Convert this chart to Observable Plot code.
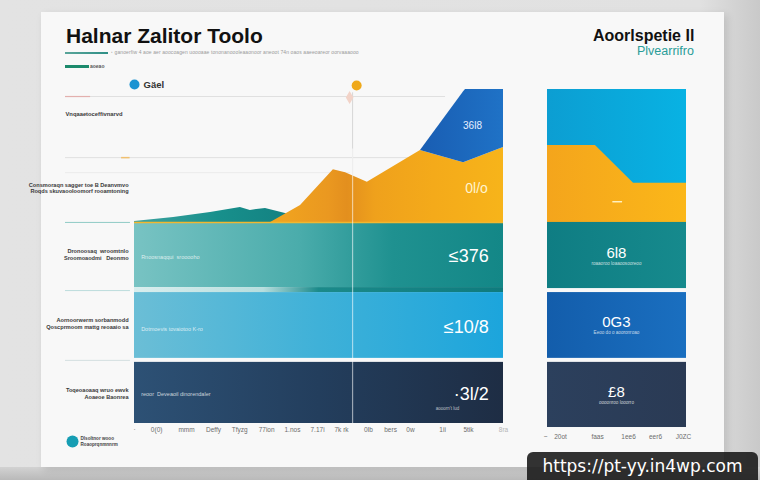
<!DOCTYPE html>
<html>
<head>
<meta charset="utf-8">
<script src="https://cdn.jsdelivr.net/npm/d3@7"></script>
<script src="https://cdn.jsdelivr.net/npm/@observablehq/plot@0.6"></script>
<style>
  html, body { margin: 0; padding: 0; }
  body { width: 760px; height: 480px; overflow: hidden; position: relative;
         background: linear-gradient(90deg, #e3e3e3 0%, #e1e1e1 92%, #c9c9c9 100%);
         font-family: "Liberation Sans", Arial, sans-serif; }
  #floor { position: absolute; left: 0; top: 467px; width: 760px; height: 13px;
           background: linear-gradient(180deg, #d2d2d2, #b9b9b9); }
  #card { position: absolute; left: 41px; top: 12px; width: 683px; height: 455px;
          background: #f8f8f8; box-shadow: 3px 3px 8px rgba(0,0,0,0.12); }
  .abs { position: absolute; white-space: nowrap; line-height: 1; }
  #title { left: 66px; top: 25px; font-size: 21px; font-weight: bold; color: #111; letter-spacing: 0px; }
  #tbar { left: 65px; top: 52px; width: 43px; height: 2px; background: linear-gradient(90deg,#5aa59a,#2f8f86); }
  #tsub { left: 111px; top: 50px; font-size: 5px; color: #9a9a9a; letter-spacing: 0.1px; }
  #gbar { left: 65px; top: 65px; width: 24px; height: 3px; background: #1c8a6c; }
  #gsub { left: 90px; top: 64px; font-size: 5px; color: #555; font-weight: bold; }
  #rhead { left: 593px; top: 28px; font-size: 16px; font-weight: bold; color: #111; letter-spacing: 0px; }
  #rsub { left: 637px; top: 45px; font-size: 12.5px; color: #2a9d98; letter-spacing: 0px; }
  #wm { left: 527px; top: 452px; width: 231px; height: 34px; background: rgba(28,28,28,0.9);
        border-radius: 6px; color: #fff; font-family: "DejaVu Sans", sans-serif; font-size: 17px;
        line-height: 28px; text-align: center; }
  #left { position: absolute; left: 40px; top: 75px; }
  #right { position: absolute; left: 540px; top: 75px; }
</style>
</head>
<body>
<div id="floor"></div>
<div id="card"></div>
<div class="abs" id="title">Halnar Zalitor Toolo</div>
<div class="abs" id="tbar"></div>
<div class="abs" id="tsub">ꞏ ganoerfiw 4 aoe aer aoocoagen uoooaae tononanoooleaaonoor aneoot 74n oaos aaeeoareor oorvaaaooo</div>
<div class="abs" id="gbar"></div>
<div class="abs" id="gsub">aoeao</div>
<div class="abs" id="rhead">Aoorlspetie Il</div>
<div class="abs" id="rsub">Plvearrifro</div>
<div id="left"></div>
<div id="right"></div>
<div class="abs" id="wm">https://pt-yy.in4wp.com</div>
<script>
// ---------- data (chart units: x 0–100 across a panel, y 0–100 up the panel) ----------
const leftBands = [
  {band: "teal",  lo: 40.7, hi: 60.2},
  {band: "strip", lo: 39.2, hi: 40.7},
  {band: "sky",   lo: 19.5, hi: 39.2},
  {band: "navy",  lo: 0,    hi: 18.3}
];
const areaBase = 60.2;
const tealHills = [[0,60.5],[10.6,61.7],[20.6,63.2],[28.7,64.7],[31.4,63.8],[35.5,64.4],[40.9,62.9],[45,60.6]];
const orangeRidge = [[36.9,60.2],[45,65.3],[53.9,76.0],[57.2,75.1],[63.1,72.2],[77.5,81.7],[89.2,78.1],[100,82.6]];
const blueCap = [{x:77.5, lo:81.7, hi:81.7},{x:89.2, lo:78.1, hi:99.3},{x:89.7, lo:78.3, hi:100},{x:100, lo:82.6, hi:100}];

const leftValues = [
  {x: 96, y: 50.0, big: "≤376",  small: "Rnoosnaqqui  srooooho", sy: 49.7},
  {x: 96, y: 28.7, big: "≤10/8", small: "Dotmoevis tovaiotoo K-ro", sy: 28.1},
  {x: 96, y: 8.9,  big: "·3l/2", small: "reoor  Deveaoil dinorendaler", sy: 8.7}
];
const leftNote = {x: 88, y: 4.6, t: "aooorn't lud"};
const areaValues = [
  {x: 91.6, y: 89.2, t: "36l8"},
  {x: 92.7, y: 70.4, t: "0l/o"}
];
const leftLabels = [
  {y: 71.3, t: "Consmoraqn sagger toe B Deanvmvo"},
  {y: 69.5, t: "Roqds skuvaooloomorf rooamtoning"},
  {y: 51.5, t: "Dronoosaq  wroomtnlo"},
  {y: 49.4, t: "Sroomoaodmi   Deonmo"},
  {y: 30.8, t: "Aornoorwerm sorbanmodd"},
  {y: 28.7, t: "Qoscprmoom mattg reoaaio sa"},
  {y: 9.9,  t: "Toqeoaoaaq wruo ewvk"},
  {y: 7.8,  t: "Aoaeoe Baonrea"}
];
const topLabel = {y: 92.5, t: "Vnqaaetoceffivnarvd"};
const xTickPos = [0, 6, 14.1, 21.4, 28.5, 35.8, 42.8, 49.6, 56.1, 63.4, 69.4, 74.8, 83.5, 90.5, 100];
const xTickText = ["·", "0(0)", "mmm", "Deffy", "Tfyzg", "77ion", "1.nos", "7.17i", "7k rk", "0Ib", "bers", "0w", "1ii", "5tik", "8ra"];
const gridLines = [
  {y: 97.9, x1: -18.7, x2: 84.3, kind: "light"},
  {y: 79.6, x1: -18.7, x2: 84.3, kind: "light"},
  {y: 75.1, x1: -18.7, x2: 58.5, kind: "faint"},
  {y: 60.2, x1: -18.7, x2: -1.1, kind: "teal"},
  {y: 39.8, x1: -18.7, x2: -1.1, kind: "tealLight"},
  {y: 18.9, x1: -18.7, x2: -1.1, kind: "grey"}
];
const legendTop = [{x: 0, y: 101.5, t: "Gäel", kind: "blue"}, {x: 60.2, y: 101.2, t: "", kind: "orange"}];
const legendBottom = {x: -16.8, y: -5.4, lines: ["Dlsoltnor wooo", "Roaoprqnmnnrm"]};
const cursorX = 59.1;

const rightBands = [
  {band: "teal", lo: 40.4, hi: 60.2},
  {band: "blue", lo: 19.5, hi: 39.2},
  {band: "navy", lo: -1.2, hi: 18.3}
];
const rightSky = {lo: 60.2, hi: 100};
const rightOrange = [[0,83.2],[34.5,83.2],[61.9,71.9],[100,71.9]];
const rightValues = [
  {y: 50.9, big: "6l8", small: "roaaoroo loaaoosooreoo"},
  {y: 30.2, big: "0G3", small: "Eeoo do o aooronroao"},
  {y: 9.3,  big: "£8",  small: "oooonroo looorro"}
];
const rightTickPos = [-1.4, 9.4, 36, 58.3, 77.7, 97.8];
const rightTickText = ["~", "20ot", "faas", "1ee6", "eer6", "J0ZC"];

// ---------- styles ----------
const gradients = [
  {id: "g-teal",  stops: [[0,"#78c3c3"],[0.45,"#4aacab"],[0.7,"#1f9190"],[1,"#138787"]]},
  {id: "g-strip", stops: [[0,"#d9eeee"],[0.35,"#b7dede"],[0.5,"#1b8a8a"],[1,"#0f7b7d"]]},
  {id: "g-sky",   stops: [[0,"#6bbed6"],[0.5,"#3fb1d8"],[1,"#1ca5dc"]]},
  {id: "g-navy",  stops: [[0,"#2d5175"],[0.5,"#233e5d"],[1,"#1e2d44"]]},
  {id: "g-orange",stops: [[0,"#f2a61f"],[0.25,"#ea9820"],[0.33,"#e38f1e"],[0.45,"#efa11c"],[0.7,"#f4aa1a"],[1,"#f7b41a"]]},
  {id: "g-blue",  stops: [[0,"#195db2"],[1,"#1f72c6"]]},
  {id: "g-hills", stops: [[0,"#3ea3a0"],[0.5,"#18908c"],[1,"#127f80"]]},
  {id: "r-sky",   stops: [[0,"#0c9ed2"],[1,"#08b2e3"]]},
  {id: "r-orange",stops: [[0,"#f4a51c"],[1,"#fbb719"]]},
  {id: "r-teal",  stops: [[0,"#0f7d83"],[1,"#168a8d"]]},
  {id: "r-blue",  stops: [[0,"#135dab"],[1,"#1a6fc0"]]},
  {id: "r-navy",  stops: [[0,"#2c405d"],[1,"#2a3a54"]]}
];
const leftBandFill = {teal: "url(#g-teal)", strip: "url(#g-strip)", sky: "url(#g-sky)", navy: "url(#g-navy)"};
const rightBandFill = {teal: "url(#r-teal)", blue: "url(#r-blue)", navy: "url(#r-navy)"};
const gridStroke = {light: "#e0e0e0", faint: "#ebebeb", teal: "#8fcac5", tealLight: "#bcdcdc", grey: "#d3dfe0"};
const font = "Liberation Sans, Arial, sans-serif";

function addDefs(svgNode) {
  const defs = d3.select(svgNode).insert("defs", ":first-child");
  for (const g of gradients) {
    const lg = defs.append("linearGradient").attr("id", g.id)
      .attr("x1", 0).attr("x2", 1).attr("y1", 0).attr("y2", 0);
    for (const [o, c] of g.stops) lg.append("stop").attr("offset", o).attr("stop-color", c);
  }
}

// ---------- left panel ----------
const leftMarks = [];
for (const g of gridLines) {
  leftMarks.push(Plot.ruleY([g], {y: "y", x1: "x1", x2: "x2", stroke: gridStroke[g.kind], strokeWidth: 1}));
}
leftMarks.push(Plot.ruleY([gridLines[0]], {y: "y", x1: "x1", x2: -11.9, stroke: "#e3b0ae", strokeWidth: 1.2}));
leftMarks.push(Plot.ruleY([gridLines[1]], {y: "y", x1: -3.5, x2: -1.2, stroke: "#f0c070", strokeWidth: 1.5}));
leftMarks.push(Plot.ruleX([cursorX], {y1: areaBase, y2: 99, stroke: "#d6d6d6", strokeWidth: 1}));
for (const b of leftBands) {
  leftMarks.push(Plot.rect([b], {x1: 0, x2: 100, y1: "lo", y2: "hi", fill: leftBandFill[b.band]}));
}
leftMarks.push(Plot.areaY(tealHills, {x: d => d[0], y1: areaBase, y2: d => d[1], fill: "url(#g-hills)"}));
leftMarks.push(Plot.areaY(orangeRidge, {x: d => d[0], y1: areaBase, y2: d => d[1], fill: "url(#g-orange)"}));
leftMarks.push(Plot.areaY(blueCap, {x: "x", y1: "lo", y2: "hi", fill: "url(#g-blue)"}));
leftMarks.push(Plot.ruleY([areaBase], {x1: 0, x2: 100, stroke: "#f1b730", strokeWidth: 1.6}));
leftMarks.push(Plot.ruleX([cursorX], {y1: 0, y2: areaBase + 22, stroke: "#ffffff", strokeOpacity: 0.55, strokeWidth: 1.2}));
leftMarks.push(Plot.text(leftValues, {x: "x", y: "y", text: "big", textAnchor: "end", fill: "#ffffff", fontSize: 18, fontFamily: font}));
leftMarks.push(Plot.text(leftValues, {x: 1.8, y: "sy", text: "small", textAnchor: "start", fill: "#ffffff", fillOpacity: 0.75, fontSize: 5.5, fontFamily: font}));
leftMarks.push(Plot.text([leftNote], {x: "x", y: "y", text: "t", textAnchor: "end", fill: "#ffffff", fillOpacity: 0.7, fontSize: 4.5, fontFamily: font}));
leftMarks.push(Plot.text(areaValues.slice(0, 1), {x: "x", y: "y", text: "t", fill: "#e8f0ff", fontSize: 10, fontFamily: font}));
leftMarks.push(Plot.text(areaValues.slice(1), {x: "x", y: "y", text: "t", fill: "#fff4cf", fontSize: 14, fontFamily: font}));
leftMarks.push(Plot.text(leftLabels, {x: -1.6, y: "y", text: "t", textAnchor: "end", fontSize: 5.6, fontWeight: "bold", fill: "#3a3a3a", fontFamily: font}));
leftMarks.push(Plot.text([topLabel], {x: -18.7, y: "y", text: "t", textAnchor: "start", fontSize: 5.8, fontWeight: "bold", fill: "#3a3a3a", fontFamily: font}));
leftMarks.push(Plot.text(xTickPos, {x: d => d, y: -1.8, text: (d, i) => xTickText[i], fill: (d, i) => i === xTickPos.length - 1 ? "#b5b5b5" : "#6c6c6c", fontSize: 6.5, fontFamily: font}));
leftMarks.push(Plot.dot(legendTop.slice(0, 1), {x: "x", y: "y", r: 5, fill: "#1b93d2"}));
leftMarks.push(Plot.text(legendTop.slice(0, 1), {x: "x", y: "y", text: "t", dx: 9, textAnchor: "start", fontSize: 9.5, fontWeight: "bold", fill: "#333", fontFamily: font}));
leftMarks.push(Plot.dot(legendTop.slice(1), {x: "x", y: "y", r: 5, fill: "#efa91b"}));
leftMarks.push(Plot.dot([{x: 58.3, y: 97.6}], {x: "x", y: "y", r: 4, symbol: "diamond", fill: "#f2d3c8"}));
leftMarks.push(Plot.dot([legendBottom], {x: "x", y: "y", r: 6, fill: "#159db3"}));
leftMarks.push(Plot.text(legendBottom.lines, {x: legendBottom.x, y: (d, i) => legendBottom.y + 0.8 - i * 1.6, text: d => d, dx: 8, textAnchor: "start", fontSize: 4.6, fontWeight: "bold", fill: "#444", fontFamily: font}));

const leftPlot = Plot.plot({
  width: 470, height: 385,
  marginLeft: 94, marginRight: 7, marginTop: 14, marginBottom: 37,
  x: {domain: [0, 100], axis: null},
  y: {domain: [0, 100], axis: null},
  style: {background: "transparent", overflow: "visible"},
  marks: leftMarks
});
addDefs(leftPlot);
document.getElementById("left").appendChild(leftPlot);

// ---------- right panel ----------
const rightMarks = [];
rightMarks.push(Plot.rect([rightSky], {x1: 0, x2: 100, y1: "lo", y2: "hi", fill: "url(#r-sky)"}));
rightMarks.push(Plot.areaY(rightOrange, {x: d => d[0], y1: areaBase, y2: d => d[1], fill: "url(#r-orange)"}));
for (const b of rightBands) {
  rightMarks.push(Plot.rect([b], {x1: 0, x2: 100, y1: "lo", y2: "hi", fill: rightBandFill[b.band]}));
}
rightMarks.push(Plot.ruleY([66.4], {x1: 47, x2: 54, stroke: "#fff1c0", strokeWidth: 1.5}));
rightMarks.push(Plot.text(rightValues, {x: 49.6, y: "y", text: "big", fill: "#ffffff", fontSize: 15, fontFamily: font}));
rightMarks.push(Plot.text(rightValues, {x: 49.6, y: d => d.y - 3, text: "small", fill: "#ffffff", fillOpacity: 0.75, fontSize: 4.6, fontFamily: font}));
rightMarks.push(Plot.text(rightTickPos, {x: d => d, y: -3.9, text: (d, i) => rightTickText[i], fill: "#6c6c6c", fontSize: 6.5, fontFamily: font}));

const rightPlot = Plot.plot({
  width: 160, height: 385,
  marginLeft: 7, marginRight: 14, marginTop: 14, marginBottom: 37,
  x: {domain: [0, 100], axis: null},
  y: {domain: [0, 100], axis: null},
  style: {background: "transparent", overflow: "visible"},
  marks: rightMarks
});
addDefs(rightPlot);
document.getElementById("right").appendChild(rightPlot);
</script>
</body>
</html>
